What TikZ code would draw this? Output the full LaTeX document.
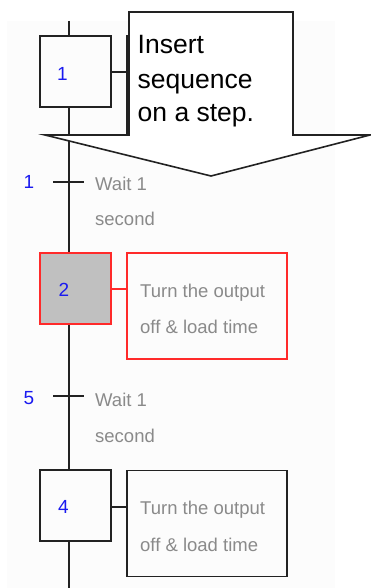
\documentclass[tikz,border=0pt]{standalone}
\usepackage{fontspec}
\setmainfont{Liberation Sans}
\definecolor{bg}{HTML}{FCFCFC}
\definecolor{lbl}{HTML}{1A1AF0}
\definecolor{txt}{HTML}{8A8A8A}
\definecolor{redb}{HTML}{FF2A2A}
\definecolor{grayfill}{HTML}{C0C0C0}
\definecolor{ln}{HTML}{222222}
\begin{document}
\begin{tikzpicture}[x=1pt,y=-1pt,
  stepbox/.style={draw=ln, line width=1.3pt, fill=bg, minimum width=71pt, minimum height=71pt, inner sep=0pt},
  actbox/.style={draw=ln, line width=1.3pt, fill=bg, minimum width=160pt, minimum height=106pt, inner sep=0pt},
  activebox/.style={draw=redb, fill=grayfill},
  activeact/.style={draw=redb},
  numlbl/.style={text=lbl, font=\fontsize{19}{19}\selectfont, inner sep=0pt},
  graytxt/.style={text=txt, font=\fontsize{18.5}{18.5}\selectfont, inner sep=0pt, anchor=base west},
  link/.style={draw=ln, line width=1.3pt},
  tick/.style={draw=ln, line width=2pt},
  calltxt/.style={font=\fontsize{26.5}{26.5}\selectfont, inner sep=0pt, anchor=base west}
]
\useasboundingbox (0,0) rectangle (371,588);
\fill[white] (0,0) rectangle (371,588);
\fill[bg] (7,21) rectangle (335,588);

% main vertical line
\coordinate (top) at (69,21);
\coordinate (bot) at (69,588);
\draw[ln, line width=1.5pt] (top) -- (bot);

% transitions
\coordinate (t1) at (69,182);
\coordinate (t5) at (69,396);
\coordinate (t1l) at (53,182);
\coordinate (t1r) at (84,182);
\coordinate (t5l) at (53,396);
\coordinate (t5r) at (84,396);
\draw[tick] (t1l) -- (t1r);
\draw[tick] (t5l) -- (t5r);
\node[numlbl] (tn1) at (29,182) {1};
\node[numlbl] (tn5) at (29,398) {5};
\node[graytxt] (w1a) at (95,190.5) {Wait 1};
\node[graytxt] (w1b) at (95,225) {second};
\node[graytxt] (w5a) at (95,406) {Wait 1};
\node[graytxt] (w5b) at (95,442.5) {second};

% steps
\node[stepbox] (s1) at (75.5,71.5) {};
\node[stepbox, activebox] (s2) at (75.5,288.5) {};
\node[stepbox] (s4) at (75.5,505.5) {};
\node[numlbl] (n1) at (62.5,74) {1};
\node[numlbl] (n2) at (64,290) {2};
\node[numlbl] (n4) at (63.5,507) {4};

% actions
\node[actbox] (a1) at (207,89) {};
\node[actbox, activeact] (a2) at (207,306) {};
\node[actbox] (a4) at (207,523.5) {};
\draw[link] (s1.east |- 0,72) -- (a1.west |- 0,72);
\draw[link, draw=redb] (s2.east |- 0,289) -- (a2.west |- 0,289);
\draw[link] (s4.east |- 0,507) -- (a4.west |- 0,507);
\node[graytxt] (a2l1) at (140,297) {Turn the output};
\node[graytxt] (a2l2) at (140,333.5) {off \& load time};
\node[graytxt] (a4l1) at (140,514) {Turn the output};
\node[graytxt] (a4l2) at (140,551) {off \& load time};

% callout
\draw[ln, line width=1.6pt, fill=white, line join=miter]
  (129,12) -- (293,12) -- (293,135) -- (370,135) -- (211,176) -- (45,135) -- (129,135) -- cycle;
\node[calltxt] (c1) at (137.5,54) {Insert};
\node[calltxt] (c2) at (137.5,88.5) {sequence};
\node[calltxt] (c3) at (137.5,121.5) {on a step.};
\end{tikzpicture}
\end{document}
